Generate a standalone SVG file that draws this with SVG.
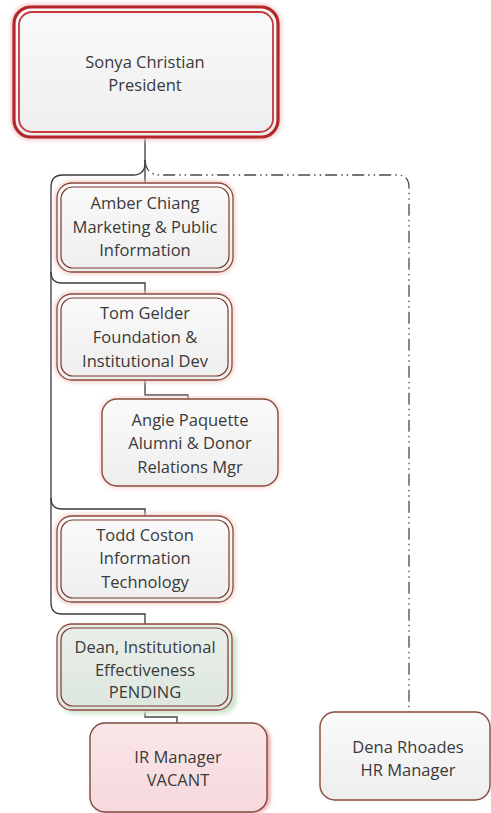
<svg xmlns="http://www.w3.org/2000/svg" width="491" height="813" viewBox="0 0 491 813">
<defs>
<linearGradient id="gGray" x1="0" y1="0" x2="0" y2="1"><stop offset="0" stop-color="#fafafa"/><stop offset="1" stop-color="#eeeeee"/></linearGradient>
<linearGradient id="gGreen" x1="0" y1="0" x2="0" y2="1"><stop offset="0" stop-color="#e9efea"/><stop offset="1" stop-color="#dde7de"/></linearGradient>
<linearGradient id="gPink" x1="0" y1="0" x2="0" y2="1"><stop offset="0" stop-color="#fae6e8"/><stop offset="1" stop-color="#f6d9dc"/></linearGradient>
<filter id="glow" x="-10%" y="-10%" width="120%" height="120%"><feGaussianBlur stdDeviation="2"/></filter>
</defs>
<style>
.t{font-family:"Open Sans","Liberation Sans",sans-serif;font-size:16.5px;fill:#3a3a3a;text-anchor:middle}
.con{fill:none;stroke:#3b3b3b;stroke-width:1.3}
.dash{fill:none;stroke:#4a4a4a;stroke-width:1.3;stroke-dasharray:12 4 1.5 4 1.5 4}
.o{fill:url(#gGray);stroke:#8c4a3c;stroke-width:1.3}
.i{fill:none;stroke:#7a3a30;stroke-width:1.2}
.halo{fill:none;stroke:#f0c9c0;stroke-width:4;filter:url(#glow)}
</style>
<rect width="491" height="813" fill="#ffffff"/>

<g id="connectors">
<path class="con" d="M145,138 V163 Q145,175 133,175 H63 Q51,175 51,187 V603 Q51,614 62,614 H145 V624"/>
<path class="con" d="M145,160 V183"/>
<path class="con" d="M51,272 Q51,283 62,283 H145 V294"/>
<path class="con" d="M51,498 Q51,509 62,509 H145 V516"/>
<path class="con" d="M145,380 V395 H188 V399"/>
<path class="con" d="M145,710 V717 H177 V723"/>
<path class="dash" d="M145,160 Q146,175 160,175 H397 Q409,175 409,187 V712"/>
</g>

<g id="president">
<rect x="14" y="7" width="264" height="130" rx="17" fill="none" stroke="#f3c2c2" stroke-width="6" filter="url(#glow)"/>
<rect x="14" y="7" width="264" height="130" rx="17" fill="url(#gGray)" stroke="#b3262a" stroke-width="3.2"/>
<rect x="19" y="12" width="254" height="120" rx="13" fill="none" stroke="#c23a3c" stroke-width="1.8"/>
<text class="t" x="145" y="68">Sonya Christian</text>
<text class="t" x="145" y="91">President</text>
</g>

<g id="amber">
<rect class="halo" x="57" y="183" width="176" height="89" rx="15"/>
<rect class="o" x="57" y="183" width="176" height="89" rx="15"/>
<rect class="i" x="61" y="187" width="168" height="81" rx="12"/>
<text class="t" x="145" y="209">Amber Chiang</text>
<text class="t" x="145" y="233">Marketing &amp; Public</text>
<text class="t" x="145" y="256">Information</text>
</g>

<g id="tom">
<rect class="halo" x="57" y="294" width="175" height="86" rx="15"/>
<rect class="o" x="57" y="294" width="175" height="86" rx="15"/>
<rect class="i" x="61" y="298" width="167" height="78" rx="12"/>
<text class="t" x="145" y="319">Tom Gelder</text>
<text class="t" x="145" y="343">Foundation &amp;</text>
<text class="t" x="145" y="367">Institutional Dev</text>
</g>

<g id="angie">
<rect x="102" y="399" width="176" height="87" rx="15" fill="none" stroke="#f3d6d0" stroke-width="4" filter="url(#glow)"/>
<rect x="102" y="399" width="176" height="87" rx="15" fill="url(#gGray)" stroke="#8a4a3e" stroke-width="1.4"/>
<text class="t" x="190" y="426">Angie Paquette</text>
<text class="t" x="190" y="449">Alumni &amp; Donor</text>
<text class="t" x="190" y="473">Relations Mgr</text>
</g>

<g id="todd">
<rect class="halo" x="57" y="516" width="176" height="86" rx="15"/>
<rect class="o" x="57" y="516" width="176" height="86" rx="15"/>
<rect class="i" x="61" y="520" width="168" height="78" rx="12"/>
<text class="t" x="145" y="541">Todd Coston</text>
<text class="t" x="145" y="564">Information</text>
<text class="t" x="145" y="588">Technology</text>
</g>

<g id="dean">
<rect x="60" y="628" width="177" height="86" rx="15" fill="#cfe3cf" filter="url(#glow)"/>
<rect x="57" y="624" width="175" height="86" rx="15" fill="url(#gGreen)" stroke="#8c4a3c" stroke-width="1.3"/>
<rect class="i" x="61" y="628" width="167" height="78" rx="12"/>
<text class="t" x="145" y="653">Dean, Institutional</text>
<text class="t" x="145" y="676">Effectiveness</text>
<text class="t" x="145" y="698">PENDING</text>
</g>

<g id="ir">
<rect x="92" y="725" width="178" height="88" rx="15" fill="#e99a9c" filter="url(#glow)"/>
<rect x="90" y="723" width="177" height="89" rx="15" fill="url(#gPink)" stroke="#7e4a40" stroke-width="1.4"/>
<text class="t" x="178" y="763">IR Manager</text>
<text class="t" x="178" y="786">VACANT</text>
</g>

<g id="dena">
<rect x="320" y="712" width="171" height="88" rx="15" fill="#e4efe6" filter="url(#glow)"/>
<rect x="320" y="712" width="170" height="88" rx="15" fill="url(#gGray)" stroke="#8a4a3e" stroke-width="1.4"/>
<text class="t" x="408" y="753">Dena Rhoades</text>
<text class="t" x="408" y="776">HR Manager</text>
</g>
</svg>
